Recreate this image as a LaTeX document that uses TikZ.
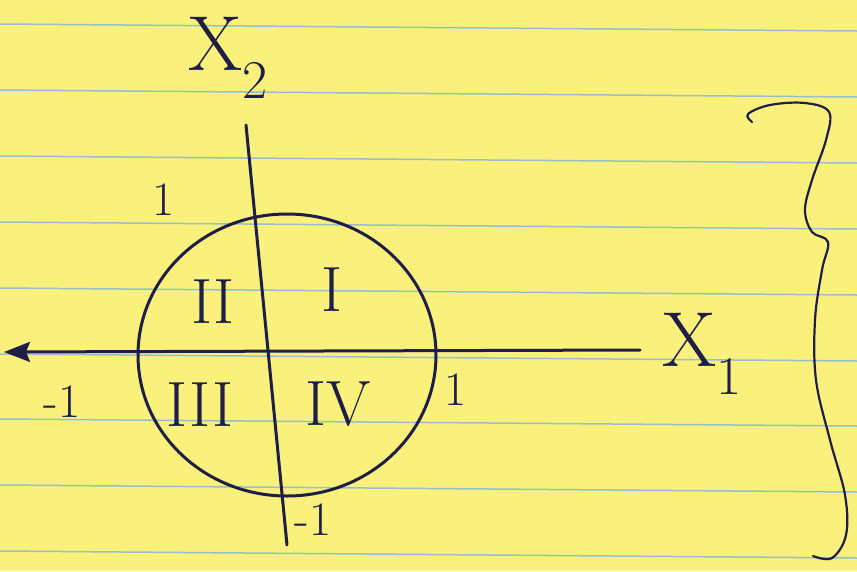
\documentclass[tikz,border=0pt]{standalone}
\usepackage{fontspec}
\usetikzlibrary{arrows.meta}
\definecolor{paper}{RGB}{250,241,125}
\definecolor{rulecol}{RGB}{150,190,205}
\definecolor{ink}{RGB}{30,30,70}

\begin{document}
\begin{tikzpicture}[
  x=1pt, y=-1pt,
  pen/.style={draw=ink, line width=3pt, line cap=round},
  lbl/.style={text=ink, inner sep=0pt, font=\fontsize{78}{78}\selectfont},
  quad/.style={text=ink, inner sep=0pt, font=\fontsize{64}{64}\selectfont},
  num/.style={text=ink, inner sep=0pt, font=\fontsize{48}{48}\selectfont},
  arr/.style={-{Stealth[length=26pt, width=20pt, inset=4pt]}}
]
% paper and ruled lines
\fill[paper] (0,0) rectangle (857,571);
\useasboundingbox (0,0) rectangle (857,571);
\foreach \y in {24,90,156,222,288,354,419,485,551}
  \draw[rulecol, line width=1.5pt] (0,\y) -- (857,\y+7);

% axes
\coordinate (xr) at (640,350);
\coordinate (xl) at (4,352);
\coordinate (yt) at (246,125);
\coordinate (yb) at (287,545);
\draw[pen, arr] (xr) -- (xl);
\draw[pen] (yt) -- (yb);

% unit circle
\draw[pen] (287,355) ellipse [x radius=149, y radius=141];

% axis labels
\node[lbl] (xtwo) at (228,58) {X\textsubscript{2}};
\node[lbl] (xone) at (702,354) {X\textsubscript{1}};

% tick values
\node[num] (ytop) at (164,200) {1};
\node[num] (xneg) at (62,402) {-1};
\node[num] (xpos) at (456,390) {1};
\node[num] (yneg) at (313,520) {-1};

% quadrants
\node[quad] (q1) at (332,290) {I};
\node[quad] (q2) at (213,302) {II};
\node[quad] (q3) at (200,405) {III};
\node[quad] (q4) at (338,404) {IV};

% brace on the right
\draw[ink, line width=2.2pt, line cap=round]
  plot[smooth, tension=0.6] coordinates {(752,122) (748,114) (770,105) (805,103) (829,112)
  (826,140) (812,180) (805,210) (812,232) (828,242) (822,270) (815,320) (816,380)
  (830,440) (845,495) (846,535) (832,558) (813,556)};
\end{tikzpicture}
\end{document}
